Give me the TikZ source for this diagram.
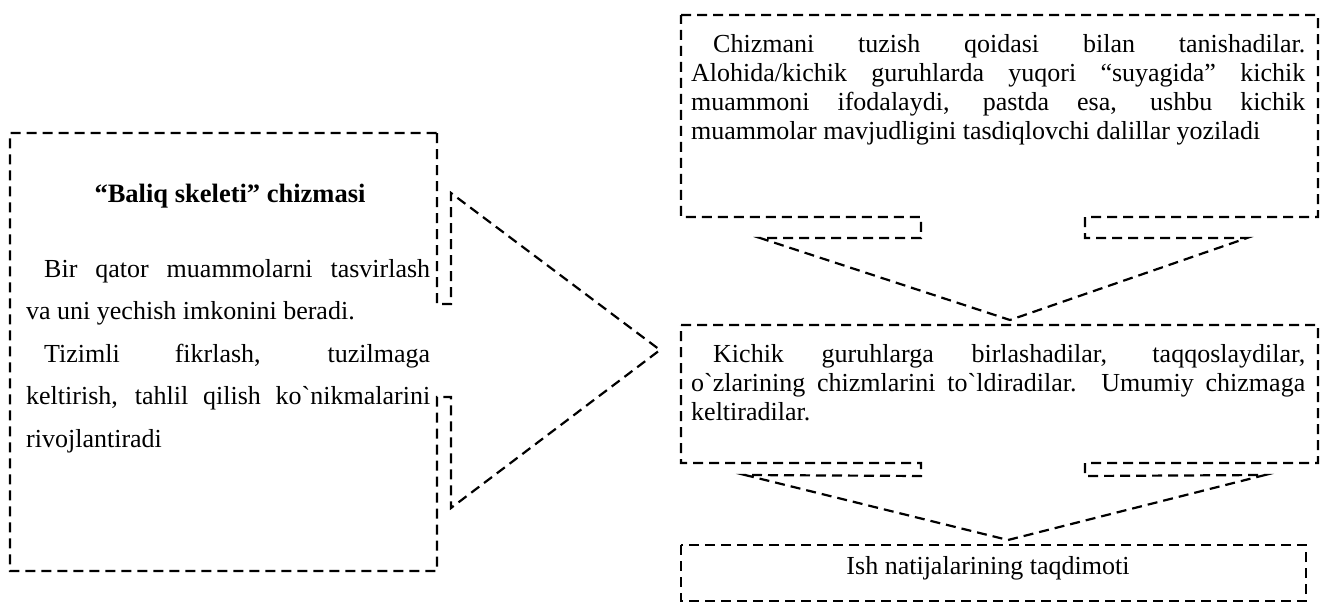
\documentclass[tikz,border=0pt]{standalone}
\usepackage{fontspec}
\setmainfont{Liberation Serif}
\newfontfamily\tnr{Liberation Serif}
\begin{document}
\begin{tikzpicture}[x=1pt,y=-1pt,
  callout/.style={draw=black,line width=2.2pt,dash pattern=on 10pt off 6pt,line join=miter},
  txt/.style={inner sep=0pt,font=\tnr\fontsize{26}{29}\selectfont},
  wide/.style={inner sep=0pt,font=\tnr\fontsize{26}{42.5}\selectfont}]
\useasboundingbox (0,0) rectangle (1328,605);
% left callout (right arrow)
\draw[callout] (437,133) -- (437,304) -- (451,304) -- (451,193) -- (660,350)
  -- (451,508) -- (451,397) -- (437,397) -- (437,571) -- (10,571) -- (10,133) -- cycle;
% top right callout (down arrow)
\draw[callout] (681,15) -- (1318,15) -- (1318,217) -- (1085,217) -- (1085,238)
  -- (1247,238) -- (1010,320) -- (760,238) -- (921,238) -- (921,217) -- (681,217) -- cycle;
% middle callout (down arrow)
\draw[callout] (681,325) -- (1318,325) -- (1318,463) -- (1085,463) -- (1085,476)
  -- (1265,475) -- (1008,540) -- (745,475) -- (921,476) -- (921,463) -- (681,463) -- cycle;
% bottom box
\draw[callout] (681,545) rectangle (1306,601);

\node[txt,anchor=base,font=\tnr\fontsize{26.5}{29}\selectfont] (title) at (230,202) {\bfseries “Baliq skeleti” chizmasi};
\node[wide,anchor=north west,text width=404pt,align=justify] (lefttxt) at (26,259)
 {\hspace*{18pt}Bir qator muammolarni tasvirlash\linebreak va uni yechish imkonini beradi.\par
  \hspace*{18pt}Tizimli fikrlash, tuzilmaga\linebreak keltirish, tahlil qilish ko`nikmalarini\linebreak rivojlantiradi};
\node[txt,anchor=north west,text width=614pt,align=justify] (toptxt) at (691,34)
 {\hspace*{22pt}Chizmani tuzish qoidasi bilan tanishadilar.\linebreak
  Alohida/kichik guruhlarda yuqori “suyagida” kichik\linebreak
  muammoni ifodalaydi, pastda esa, ushbu kichik\linebreak
  muammolar mavjudligini tasdiqlovchi dalillar yoziladi};
\node[txt,anchor=north west,text width=614pt,align=justify] (midtxt) at (691,344)
 {\hspace*{22pt}Kichik guruhlarga birlashadilar, taqqoslaydilar,\linebreak
  o`zlarining chizmlarini to`ldiradilar. Umumiy chizmaga\linebreak
  keltiradilar.};
\node[txt,anchor=base] (res) at (988,574) {Ish natijalarining taqdimoti};
\end{tikzpicture}
\end{document}
